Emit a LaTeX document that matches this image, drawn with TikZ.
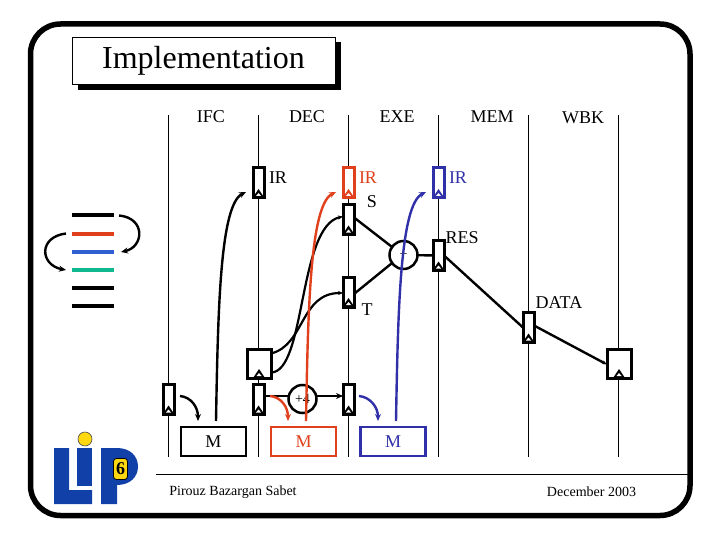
\documentclass[tikz,border=0pt]{standalone}
\usepackage{fontspec}
\setmainfont{Liberation Serif}
\usepackage{tikz}
\usetikzlibrary{arrows.meta,positioning,calc}
\definecolor{ctRed}{HTML}{E0401C}
\definecolor{ctBlue}{HTML}{3030A8}
\definecolor{ctLine}{HTML}{3060D0}
\definecolor{ctTeal}{HTML}{10B890}
\definecolor{ctLogo}{HTML}{1040A8}
\definecolor{ctSun}{HTML}{FFD810}
\tikzset{
  lbl/.style={inner sep=0pt,font=\fontsize{18}{20}\selectfont},
  foot/.style={inner sep=0pt,font=\fontsize{14}{16}\selectfont},
  reg/.style={draw,fill=white,line width=3pt,inner sep=0pt,outer sep=0pt,minimum width=11pt,minimum height=30pt},
  wreg/.style={reg,minimum width=24pt,minimum height=29pt},
  alu/.style={circle,draw,fill=white,line width=2.5pt,inner sep=0pt,outer sep=0pt,minimum size=28pt},
  membox/.style={draw,line width=2.8pt,inner sep=0pt,outer sep=0pt,minimum width=65pt,minimum height=29pt},
  flow/.style={line width=2.4pt,-{Stealth[length=7pt,width=6pt]}},
  bus/.style={line width=2.4pt},
}
\begin{document}
\begin{tikzpicture}[x=1pt,y=-1pt]
  \useasboundingbox (0,0) rectangle (720,540);
  \draw[line width=5.5pt,rounded corners=30pt] (30.5,24) rectangle (690,515.5);
  % title
  \fill (78,42) rectangle (341,90);
  \node[draw,fill=white,line width=0.8pt,inner sep=0pt,minimum width=263pt,minimum height=47pt,font=\fontsize{32}{36}\selectfont] (title) at (203.5,60.5) {Implementation};
  % stages
  \foreach \x/\s/\t/\yy in {211/ifc/IFC/117,307/dec/DEC/117,397/exe/EXE/117,492/mem/MEM/117,583/wbk/WBK/118} {
    \node[lbl] (\s) at (\x,\yy) {\t};
  }
  \foreach \x/\n in {168.5/a,258.5/b,348.5/c,438.5/d,528.5/e,618.5/f} {
    \coordinate (top\n) at (\x,115);
    \coordinate (bot\n) at (\x,457);
    \draw[line width=0.9pt] (top\n) -- (bot\n);
  }
  % instruction list
  \foreach \y/\c/\n in {215.5/black/a,233.5/ctRed/b,251.5/ctLine/c,270/ctTeal/d,288/black/e,306/black/f} {
    \coordinate (il\n) at (72,\y);
    \coordinate (ir\n) at (114,\y);
    \draw[\c,line width=4pt] (il\n) -- (ir\n);
  }
  \coordinate (hopA) at (119,215.5);
  \coordinate (hopB) at (121,252);
  \coordinate (hopC) at (66,233.5);
  \coordinate (hopD) at (66,270);
  \draw[flow] (hopA) .. controls (146,218) and (144,247) .. (hopB);
  \draw[flow] (hopC) .. controls (38,237) and (40,265) .. (hopD);
  % registers
  \node[reg] (pcF) at (168.5,399.5) {};
  \node[reg] (pcD) at (258.5,399.5) {};
  \node[reg] (pcE) at (348.5,399.5) {};
  \node[wreg] (regFile) at (259,363.5) {};
  \node[wreg] (regWb) at (619,363.5) {};
  \node[reg] (irD) at (258.5,183) {};
  \node[reg,draw=ctRed] (irE) at (348.5,183) {};
  \node[reg,draw=ctBlue] (irM) at (438.5,183) {};
  \node[reg] (regS) at (348.5,219.5) {};
  \node[reg] (regT) at (348.5,292) {};
  \node[reg] (regRes) at (438.5,255.5) {};
  \node[reg] (regData) at (528.5,327.5) {};
  \foreach \r/\c in {pcF/black,pcD/black,pcE/black,regFile/black,regWb/black,irD/black,irE/ctRed,irM/ctBlue,regS/black,regT/black,regRes/black,regData/black} {
    \fill[\c] ($(\r.south)+(-6,0)$) -- ($(\r.south)+(0,-9)$) -- ($(\r.south)+(6,0)$) -- cycle;
    \fill[white] ($(\r.south)+(-2.5,-2)$) -- ($(\r.south)+(0,-5)$) -- ($(\r.south)+(2.5,-2)$) -- cycle;
  }
  % adders
  \node[alu,font=\fontsize{14}{14}\selectfont] (add) at (403.5,255) {+};
  \node[alu,font=\fontsize{14}{14}\selectfont] (inc) at (302.5,399) {+4};
  % memories
  \node[membox,font=\fontsize{18}{20}\selectfont] (memF) at (213.5,441.5) {M};
  \node[membox,draw=ctRed,text=ctRed,font=\fontsize{18}{20}\selectfont] (memE) at (303.5,441.5) {M};
  \node[membox,draw=ctBlue,text=ctBlue,font=\fontsize{18}{20}\selectfont] (memW) at (393,441.5) {M};
  % datapath
  \draw[bus] ($(regS.east)+(0,-2)$) -- (add.145);
  \draw[bus] ($(regT.east)+(0,2)$) -- (add.215);
  \draw[bus] (add) -- (regRes);
  \draw[bus] (regRes.east) -- (regData.west);
  \draw[flow,-{Stealth[length=5pt,width=4pt]}] ($(regData.east)+(0,-2)$) -- ($(regWb.west)+(0,1)$);
  \draw[line width=1.4pt] ($(pcD.east)+(0,-3.5)$) -- ($(inc.west)+(0,-3)$);
  \draw[line width=1.6pt,-{Stealth[length=7pt,width=6pt]}] ($(inc.east)+(0,-3)$) -- ($(pcE.west)+(0,-3.5)$);
  \draw[line width=2.2pt,-{Stealth[length=5pt,width=4pt]}] ($(regFile.east)+(0,-10)$) .. controls (305,345) and (300,293) .. ($(regT.west)+(0,1)$);
  \draw[line width=2.2pt,-{Stealth[length=5pt,width=4pt]}] ($(regFile.east)+(0,9)$) .. controls (306,372) and (298,226) .. ($(regS.west)+(0,-3)$);
  % fetch arrows
  \coordinate (fromF) at (216,421);
  \coordinate (fromE) at (306,421);
  \coordinate (fromW) at (396,421);
  \coordinate (toD) at (246,192);
  \coordinate (toE) at (336,192);
  \coordinate (toM) at (426,192);
  \draw[flow] (fromF) .. controls (218,310) and (220,205) .. (toD);
  \draw[flow,ctRed] (fromE) .. controls (308,310) and (310,205) .. (toE);
  \draw[flow,ctBlue] (fromW) .. controls (398,310) and (400,205) .. (toM);
  \coordinate (curA) at (180,396);
  \coordinate (curB) at (198,421);
  \coordinate (curC) at (270,396);
  \coordinate (curD) at (288,421);
  \coordinate (curE) at (359,396);
  \coordinate (curF) at (378,421);
  \draw[flow] (curA) .. controls (191,397) and (198,407) .. (curB);
  \draw[flow,ctRed] (curC) .. controls (281,397) and (288,407) .. (curD);
  \draw[flow,ctBlue] (curE) .. controls (370,397) and (378,407) .. (curF);
  % labels
  \node[lbl] (lblIrD) at (278,178) {IR};
  \node[lbl,text=ctRed] (lblIrE) at (368,178) {IR};
  \node[lbl,text=ctBlue] (lblIrM) at (458,178) {IR};
  \node[lbl] (lblS) at (372,202) {S};
  \node[lbl] (lblT) at (367,310) {T};
  \node[lbl] (lblRes) at (462,238) {RES};
  \node[lbl] (lblData) at (559,303) {DATA};
  % footer
  \coordinate (footL) at (156,474);
  \coordinate (footR) at (688,474);
  \draw[line width=0.9pt] (footL) -- (footR);
  \node[foot] (author) at (233,492) {Pirouz Bazargan Sabet};
  \node[foot] (date) at (591.5,492) {December 2003};
  % logo
  \fill[ctLogo] (54,448) -- (69,448) -- (69,490) -- (92,490) -- (92,504) -- (54,504) -- cycle;
  \fill[ctLogo] (77,448) rectangle (92,486);
  \fill[ctLogo] (101,448) -- (117,448) .. controls (130,448) and (138,456) .. (138,466.5) .. controls (138,477) and (130,485) .. (117,485) -- (117,504) -- (101,504) -- cycle;
  \draw[fill=ctSun,draw=black!70,line width=0.6pt] (85,439) circle (7);
  \node[draw=black,line width=0.8pt,fill=ctSun,rounded corners=3pt,inner sep=0pt,minimum width=14pt,minimum height=21pt,font=\fontsize{18}{18}\bfseries\selectfont] (six) at (120.5,469) {6};
\end{tikzpicture}
\end{document}
